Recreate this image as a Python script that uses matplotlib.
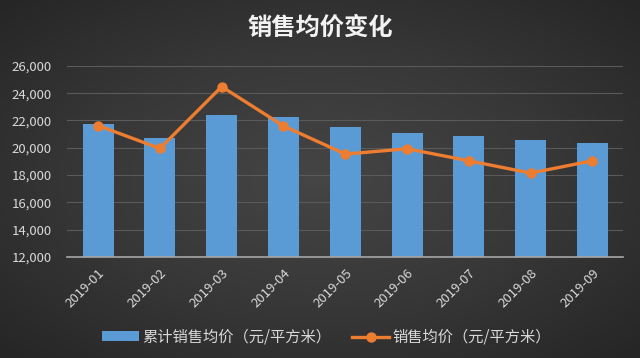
import numpy as np
import matplotlib
matplotlib.use('Agg')
import matplotlib.pyplot as plt

plt.rcParams['font.family'] = ['Noto Sans CJK SC', 'DejaVu Sans']

# 数据
months = ['2019-01', '2019-02', '2019-03', '2019-04', '2019-05',
          '2019-06', '2019-07', '2019-08', '2019-09']
cum_price = [21750, 20700, 22400, 22250, 21500, 21100, 20880, 20560, 20350]
month_price = [21630, 19950, 24480, 21600, 19540, 19930, 19050, 18150, 19050]
yticks = [12000, 14000, 16000, 18000, 20000, 22000, 24000, 26000]

bar_color = '#5b9bd5'
line_color = '#ed7d31'
text_color = '#d9d9d9'

fig = plt.figure(figsize=(6.4, 3.58), dpi=100)

# 背景渐变
bg = fig.add_axes([0, 0, 1, 1], zorder=-10)
yy, xx = np.mgrid[-1:1:200j, -1:1:360j]
r = np.sqrt(xx ** 2 + yy ** 2)
bg.imshow(r, cmap=matplotlib.colors.LinearSegmentedColormap.from_list(
    'bg', ['#454545', '#383838', '#262626']), vmin=0, vmax=1.4,
    aspect='auto', extent=[0, 1, 0, 1])
bg.axis('off')

ax = fig.add_axes([0.105, 0.282, 0.869, 0.534])
ax.patch.set_alpha(0)
x = np.arange(len(months))
bars = ax.bar(x, cum_price, width=0.5, color=bar_color, zorder=2,
              label='累计销售均价（元/平方米）')
line, = ax.plot(x, month_price, color=line_color, lw=2.4, marker='o', ms=6.5,
                zorder=3, label='销售均价（元/平方米）')

ax.set_xlim(-0.5, len(months) - 0.5)
ax.set_ylim(12000, 26000)
ax.set_yticks(yticks)
ax.set_yticklabels(['{:,}'.format(v) for v in yticks])
ax.set_xticks(x)
ax.set_xticklabels(months, rotation=45, ha='right', rotation_mode='anchor')
ax.tick_params(colors=text_color, labelsize=9.5, length=0)
ax.tick_params(axis='x', pad=7)
ax.tick_params(axis='y', pad=11)
ax.grid(axis='y', color='#5a5a5a', lw=0.8, zorder=1)
for s in ['top', 'right', 'left']:
    ax.spines[s].set_visible(False)
ax.spines['bottom'].set_color('#a6a6a6')
ax.spines['bottom'].set_linewidth(1.2)

fig.text(0.5, 0.922, '销售均价变化', ha='center', va='center',
         fontsize=17.5, fontweight='bold', color='#f2f2f2')

fig.legend([bars, line], [bars.get_label(), line.get_label()],
           loc='center', bbox_to_anchor=(0.51, 0.058), ncol=2,
           frameon=False, fontsize=11, labelcolor=text_color,
           handlelength=2.4, handleheight=0.6, columnspacing=1.4,
           handletextpad=0.2)

fig.savefig('out.png', dpi=100)
